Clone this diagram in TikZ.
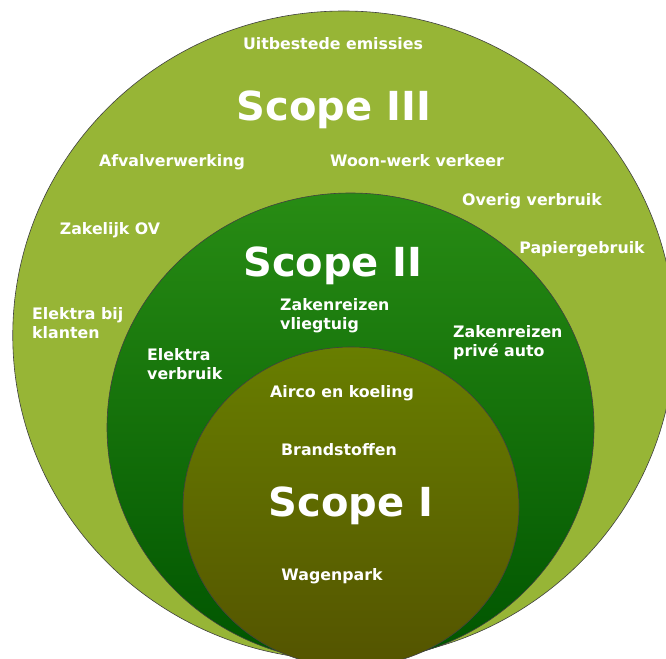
\documentclass[tikz,border=0pt]{standalone}
\usepackage{fontspec}
\setmainfont{DejaVu Sans}
\usetikzlibrary{positioning}
\definecolor{outergreen}{RGB}{151,181,54}
\definecolor{midtop}{RGB}{40,140,20}
\definecolor{midbottom}{RGB}{0,84,0}
\definecolor{innertop}{RGB}{104,126,0}
\definecolor{innerbottom}{RGB}{84,84,0}

\begin{document}
\begin{tikzpicture}[x=1pt,y=-1pt, every node/.style={font=\bfseries\fontsize{15.8}{19}\selectfont,text=white,inner sep=0pt}]
    \tikzset{ring/.style={draw=black!75,line width=0.6pt}}
    \tikzset{item/.style={anchor=base}}
    \tikzset{itemleft/.style={align=left,anchor=west}}
    \tikzset{title/.style={anchor=base,font=\bfseries\fontsize{40}{48}\selectfont}}

    \useasboundingbox (0,0) rectangle (666,658);

    % Rings (clipped at the page edge)
    \begin{scope}
      \clip (0,0) rectangle (666,658);
      \draw[ring,fill=outergreen] (343.75,335.5) ellipse[x radius=331,y radius=324.5];
      \draw[ring,top color=midtop,bottom color=midbottom] (350.5,427.5) ellipse[x radius=243.5,y radius=234.5];
      \draw[ring,top color=innertop,bottom color=innerbottom] (351,507) ellipse[x radius=168,y radius=160];
    \end{scope}

    % Scope III
    \node[item] (uitbesteed) at (333,50) {Uitbestede emissies};
    \node[title] (scopethree) at (334,121) {Scope III};
    \node[item] (afval) at (172,166) {Afvalverwerking};
    \node[item] (woonwerk) at (417,166) {Woon-werk verkeer};
    \node[item] (overig) at (532,205) {Overig verbruik};
    \node[item] (zakelijkov) at (110,234) {Zakelijk OV};
    \node[item] (papier) at (582,253) {Papiergebruik};
    \node[itemleft] (klanten) at (32,323) {Elektra bij\\klanten};

    % Scope II
    \node[title] (scopetwo) at (333,276) {Scope II};
    \node[itemleft] (vliegtuig) at (280,316) {Zakenreizen\\vliegtuig};
    \node[itemleft] (priveauto) at (453,343) {Zakenreizen\\privé auto};
    \node[itemleft] (elektra) at (147,364) {Elektra\\verbruik};

    % Scope I
    \node[item] (airco) at (342,397) {Airco en koeling};
    \node[item] (brandstof) at (339,455) {Brandstoffen};
    \node[title] (scopeone) at (351,516) {Scope I};
    \node[item] (wagenpark) at (332,580) {Wagenpark};
\end{tikzpicture}
\end{document}
